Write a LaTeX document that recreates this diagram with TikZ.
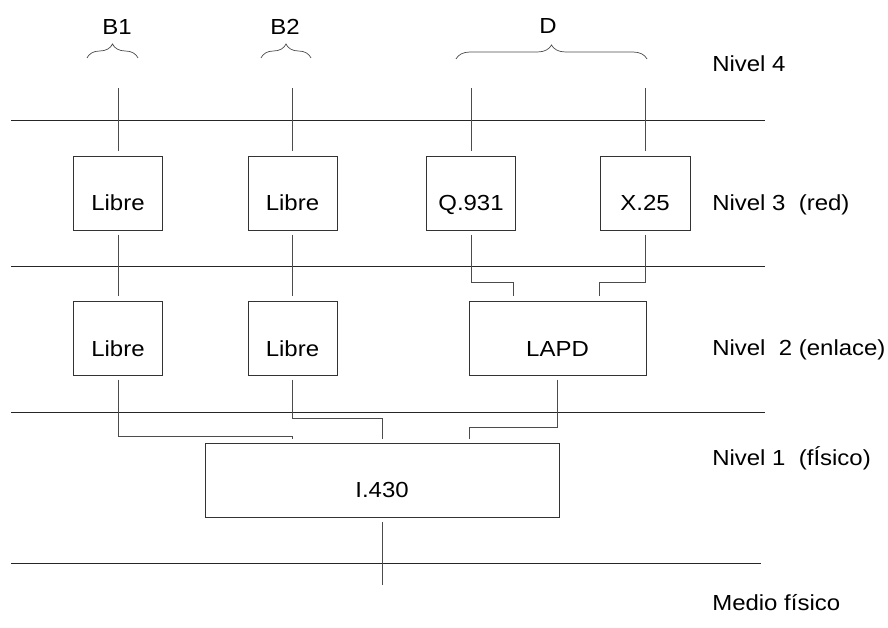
\documentclass[tikz,border=0pt]{standalone}
\usepackage{fontspec}
\setmainfont{Liberation Sans}[FakeStretch=1.1]
\usetikzlibrary{decorations.pathreplacing,calc}

\begin{document}
\begin{tikzpicture}[x=0.025cm,y=-0.025cm,
  every node/.style={font=\fontsize{15.5}{18}\selectfont},
  layer/.style={draw=black!85,line width=0.6pt},
  stem/.style={draw=black!70,line width=0.6pt,shorten <=3pt,shorten >=3pt},
  unit/.style={draw=black!80,line width=0.6pt,inner sep=0pt,minimum width=2.225cm,
    minimum height=1.85cm,text height=1.1cm,text depth=0.2cm},
  lvl/.style={anchor=base west,inner sep=0pt},
  grp/.style={draw=black!70,line width=0.5pt,decorate,decoration={brace,amplitude=0.35cm}}]
\useasboundingbox (0,0) rectangle (888,628);
% layer boundaries
\foreach \y in {120,266,412} \draw[layer] (11,\y) -- (765,\y);
\draw[layer] (11,563) -- (761,563);
% channel groups
\draw[grp] (87,58) -- (138,58);
\draw[grp] (261,58) -- (311,58);
\draw[grp] (456,59) -- (647,59);
\node (bA) at (117,27) {B1};
\node (bB) at (285,27) {B2};
\node (dch) at (548,26) {D};
% level 3
\node[unit] (libA3) at (118,193) {Libre};
\node[unit] (libB3) at (292.5,193) {Libre};
\node[unit] (q931) at (471,193) {Q.931};
\node[unit,minimum width=2.25cm] (x25) at (645,193) {X.25};
% level 2
\node[unit] (libA2) at (118,338) {Libre};
\node[unit] (libB2) at (292.5,338) {Libre};
\node[unit,minimum width=4.425cm] (lapd) at (557.5,338) {LAPD};
% level 1
\node[unit,minimum width=8.85cm,text height=1.05cm,text depth=0.225cm] (phys) at (382,480.5) {I.430};
% top ends and bottom end
\coordinate (tA) at (118,84);
\coordinate (tB) at (292.5,84);
\coordinate (tQ) at (471,84);
\coordinate (tX) at (645,84);
\coordinate (med) at (382,589);
\draw[stem] (tA) -- (libA3);
\draw[stem] (tB) -- (libB3);
\draw[stem] (tQ) -- (q931);
\draw[stem] (tX) -- (x25);
\draw[stem] (libA3) -- (libA2);
\draw[stem] (libB3) -- (libB2);
% into LAPD
\coordinate (kq) at (513,282);
\coordinate (kx) at (599,282);
\draw[stem] (q931.south) |- (kq) -- (kq |- lapd.north);
\draw[stem] (x25.south) |- (kx) -- (kx |- lapd.north);
% into I.430
\coordinate (ka) at (292,436);
\coordinate (kb) at (382,418);
\coordinate (kc) at (469,427);
\draw[stem] (libA2.south) |- (ka) -- (ka |- phys.north);
\draw[stem] (libB2.south) |- (kb) -- (kb |- phys.north);
\draw[stem] (lapd.south) |- (kc) -- (kc |- phys.north);
\draw[stem] (phys) -- (med);
% level names
\node[lvl] (n4) at (712,72) {Nivel 4};
\node[lvl] (n3) at (712,211) {Nivel 3~~(red)};
\node[lvl] (n2) at (712,356) {Nivel~~2 (enlace)};
\node[lvl] (n1) at (712,466) {Nivel 1~~(fÍsico)};
\node[lvl] (n0) at (712,611) {Medio físico};
\end{tikzpicture}
\end{document}
